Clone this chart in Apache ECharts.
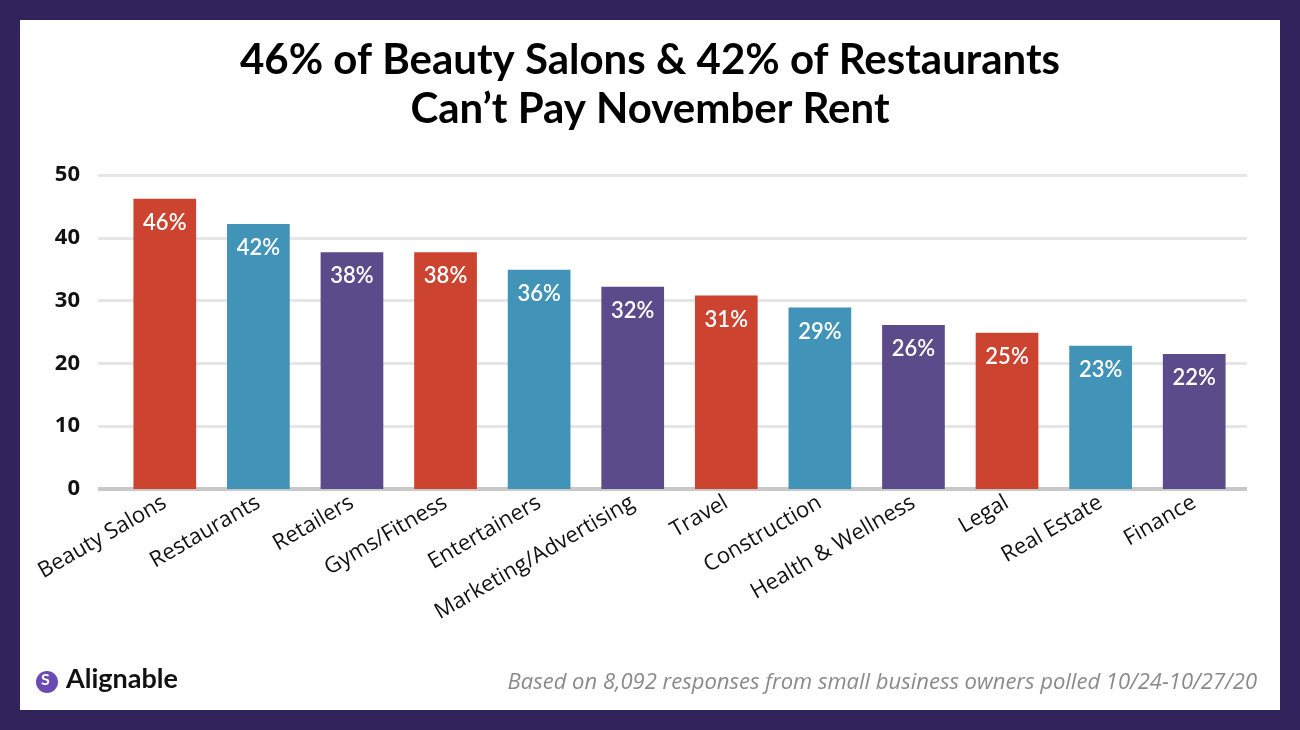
<!DOCTYPE html>
<html><head><meta charset="utf-8">
<script src="https://cdn.jsdelivr.net/npm/echarts@6/dist/echarts.min.js"></script>
<style>html,body{margin:0;padding:0;background:#32235c;}#c{width:1300px;height:730px;}</style>
</head><body><div id="c"></div>
<script>
const categories = ["Beauty Salons","Restaurants","Retailers","Gyms/Fitness","Entertainers","Marketing/Advertising","Travel","Construction","Health & Wellness","Legal","Real Estate","Finance"];
const values = [46.2, 42.2, 37.7, 37.7, 34.9, 32.2, 30.8, 28.9, 26.1, 24.9, 22.8, 21.5];
const valueLabels = ["46%","42%","38%","38%","36%","32%","31%","29%","26%","25%","23%","22%"];
const palette = ["#cc4330","#4193b7","#5c4b8a"];
const yTicks = [0,10,20,30,40,50];
const titleLines = ["46% of Beauty Salons & 42% of Restaurants","Can\u2019t Pay November Rent"];
const footnote = "Based on 8,092 responses from small business owners polled 10/24-10/27/20";

const chart = echarts.init(document.getElementById('c'));
const font = 'Lato, "Open Sans", sans-serif';
const font2 = '"Open Sans", Lato, sans-serif';
chart.setOption({
  backgroundColor: '#32235c',
  animation: false,
  graphic: [
    {type:'rect', shape:{x:20,y:20,width:1260,height:690}, style:{fill:'#ffffff'}, z:-10},
    {type:'text', left:'center', top:36, style:{text:titleLines.join('\n'), font:'bold 42px '+font, fill:'#000', textAlign:'center', lineHeight:49}},
    {type:'text', right:43, top:672, style:{text:footnote, font:'italic 22px '+font2, fill:'#8a8a8a', textAlign:'right'}},
    {type:'circle', shape:{cx:47, cy:682, r:11}, style:{fill:'#6a4bb3'}},
    {type:'text', left:41, top:672, style:{text:'S', font:'bold 16px '+font, fill:'#ffffff'}},
    {type:'text', left:66, top:666, style:{text:'Alignable', font:'bold 27px '+font, fill:'#111111'}}
  ],
  grid: [
    {left:98, right:53, top:175, bottom:241},
    {left:118, right:59, top:175, bottom:241}
  ],
  xAxis: [
    {gridIndex:0, type:'value', min:0, max:1, show:false},
    {gridIndex:1, type:'category', data:categories,
     axisLine:{show:false}, axisTick:{show:false},
     axisLabel:{rotate:30, interval:0, margin:12, fontSize:22, color:'#111', fontFamily:font2}}
  ],
  yAxis: [
    {gridIndex:0, type:'value', min:yTicks[0], max:yTicks[yTicks.length-1], interval:10,
     axisLine:{show:false}, axisTick:{show:false},
     axisLabel:{margin:18, fontSize:22, fontWeight:'bold', color:'#111', fontFamily:font2},
     splitLine:{lineStyle:{color:'#e6e6e6', width:3}}},
    {gridIndex:1, type:'value', min:0, max:50, show:false, splitLine:{show:false}}
  ],
  series: [
    {type:'line', xAxisIndex:0, yAxisIndex:0, data:[[0,0],[1,0]], symbol:'none',
     lineStyle:{color:'#c8c8c8', width:4}, z:1, silent:true},
    {type:'bar', xAxisIndex:1, yAxisIndex:1, barCategoryGap:'33%', z:3,
     data: values.map((v,i)=>({value:v, itemStyle:{color:palette[i%3]}})),
     label:{show:true, position:'insideTop', distance:13, color:'#fff', fontSize:22, fontWeight:600, fontFamily:font,
       formatter:p=>valueLabels[p.dataIndex]}}
  ]
});
</script></body></html>
